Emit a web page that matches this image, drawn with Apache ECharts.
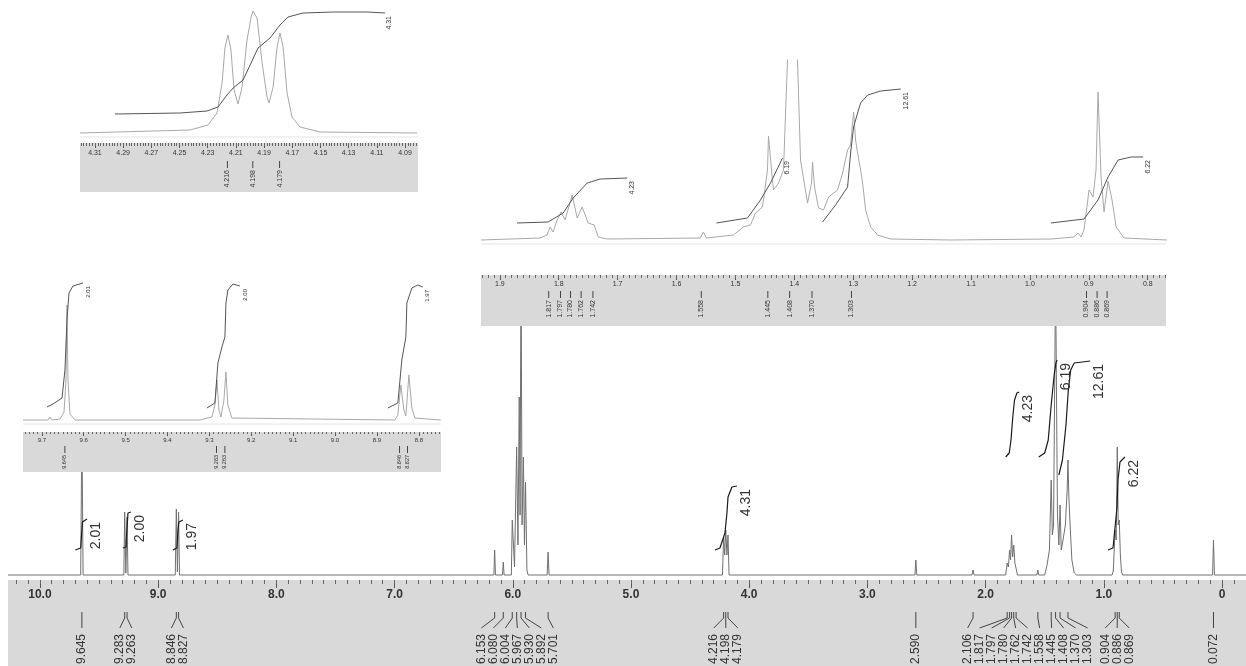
<!DOCTYPE html>
<html>
<head>
<meta charset="utf-8">
<title>1H NMR</title>
<script src="https://cdn.jsdelivr.net/npm/echarts@6/dist/echarts.min.js"></script>
<style>
  html, body { margin: 0; padding: 0; background: #fff; }
  #chart-nmr { width: 1246px; height: 666px; }
</style>
</head>
<body>
<div id="chart-nmr"></div>
<script>
  // ---- data: [ppm, intensity] ----
  var mainSpectrum = [
    [10.27, 0], [9.655, 0], [9.645, 150], [9.635, 0],
    [9.29, 0], [9.283, 63], [9.273, 2], [9.263, 58], [9.255, 0],
    [8.855, 0], [8.846, 66], [8.837, 3], [8.827, 63], [8.819, 0],
    [6.16, 0], [6.153, 25], [6.146, 0], [6.087, 0], [6.080, 13], [6.073, 0],
    [6.012, 0], [6.004, 55], [5.985, 8], [5.967, 128], [5.956, 30], [5.945, 178], [5.938, 60],
    [5.930, 320], [5.921, 50], [5.910, 118], [5.901, 30], [5.892, 93], [5.880, 5], [5.87, 0],
    [5.709, 0], [5.701, 23], [5.693, 0],
    [4.226, 0], [4.216, 38], [4.207, 20], [4.198, 45], [4.188, 20], [4.179, 40], [4.170, 0],
    [2.598, 0], [2.590, 15], [2.582, 0], [2.115, 0], [2.106, 5], [2.097, 0],
    [1.83, 0], [1.817, 12], [1.807, 8], [1.797, 25], [1.789, 15], [1.780, 40], [1.771, 18],
    [1.762, 30], [1.752, 12], [1.742, 14], [1.73, 0],
    [1.566, 0], [1.558, 5], [1.550, 0],
    [1.50, 0], [1.48, 10], [1.46, 25], [1.445, 95], [1.435, 40], [1.425, 50], [1.408, 300],
    [1.392, 60], [1.38, 30], [1.370, 70], [1.36, 25], [1.345, 35], [1.325, 50], [1.310, 85],
    [1.303, 115], [1.296, 80], [1.285, 50], [1.27, 15], [1.25, 2], [1.23, 0],
    [0.93, 0], [0.920, 4], [0.912, 3], [0.904, 45], [0.895, 35], [0.886, 128], [0.878, 50],
    [0.869, 55], [0.860, 20], [0.85, 3], [0.84, 0],
    [0.08, 0], [0.072, 35], [0.064, 0], [-0.203, 0]
  ];
  var mainTicks = [10, 9, 8, 7, 6, 5, 4, 3, 2, 1, 0];
  var mainPeakLabels = [9.645, 9.283, 9.263, 8.846, 8.827, 6.153, 6.080, 6.004, 5.967, 5.930,
    5.892, 5.701, 4.216, 4.198, 4.179, 2.590, 2.106, 1.817, 1.797, 1.780, 1.762, 1.742,
    1.558, 1.445, 1.408, 1.370, 1.303, 0.904, 0.886, 0.869, 0.072];

  // integrals on the full spectrum
  var mInt201 = [[9.70, 25], [9.655, 27], [9.645, 45], [9.640, 53], [9.602, 56]];
  var mInt200 = [[9.298, 27], [9.272, 28], [9.264, 45], [9.255, 62], [9.230, 63]];
  var mInt197 = [[8.875, 25], [8.841, 27], [8.832, 45], [8.824, 53], [8.790, 55]];
  var mInt431 = [[4.289, 25], [4.247, 27], [4.205, 42], [4.188, 62], [4.179, 78], [4.146, 88], [4.103, 89]];
  var mInt423 = [[1.83, 118], [1.80, 122], [1.785, 135], [1.77, 158], [1.755, 175], [1.735, 182], [1.715, 183]];
  var mInt619 = [[1.55, 118], [1.50, 122], [1.47, 135], [1.445, 170], [1.42, 200], [1.405, 212], [1.395, 215]];
  var mInt1261 = [[1.38, 100], [1.35, 115], [1.32, 150], [1.30, 185], [1.28, 205], [1.25, 212], [1.115, 214]];
  var mInt622 = [[0.9645, 25], [0.922, 27], [0.888, 68], [0.880, 95], [0.863, 113], [0.821, 118]];
  var mainIntValues = ['2.01', '2.00', '1.97', '4.31', '4.23', '6.19', '12.61', '6.22'];

  // inset: 4.09 - 4.31
  var in1Spectrum = [
    [4.3206, 0], [4.2425, 3], [4.2298, 8], [4.2234, 20], [4.2198, 50], [4.2177, 86], [4.2156, 98],
    [4.2135, 83], [4.2113, 43], [4.2085, 29], [4.2056, 46], [4.2021, 93], [4.1992, 116], [4.1978, 122],
    [4.1950, 115], [4.1914, 70], [4.1879, 36], [4.1865, 30], [4.1836, 46], [4.1808, 86], [4.1787, 100],
    [4.1765, 86], [4.1737, 40], [4.1702, 16], [4.1645, 6], [4.1503, 1], [4.0814, 0]
  ];
  var in1Integral = [
    [4.2958, 19], [4.2496, 20], [4.2305, 22], [4.2227, 26], [4.2163, 38], [4.2120, 45], [4.2049, 53],
    [4.1999, 68], [4.1943, 85], [4.1858, 95], [4.1787, 108], [4.1730, 116], [4.1624, 120],
    [4.1410, 121], [4.1169, 121], [4.1042, 120]
  ];
  var in1Ticks = [4.31, 4.29, 4.27, 4.25, 4.23, 4.21, 4.19, 4.17, 4.15, 4.13, 4.11, 4.09];
  var in1PeakLabels = [4.216, 4.198, 4.179];
  var in1IntValues = ['4.31'];

  // inset: 0.8 - 1.9
  var in2Spectrum = [
    [1.932, 0], [1.8317, 2], [1.8198, 5], [1.8147, 13], [1.8096, 8], [1.8028, 20], [1.7960, 28],
    [1.7892, 20], [1.7772, 45], [1.7687, 22], [1.7602, 33], [1.7500, 17], [1.7398, 15], [1.7330, 3],
    [1.7177, 1], [1.5596, 2], [1.5545, 8], [1.5494, 2], [1.5035, 5], [1.4864, 13], [1.4745, 15],
    [1.4660, 27], [1.4541, 33], [1.4456, 70], [1.4439, 104], [1.4388, 70], [1.4354, 50], [1.4269, 57],
    [1.4184, 70], [1.4116, 180], [1.403, 260], [1.3946, 180], [1.3895, 80], [1.3776, 37], [1.3708, 57],
    [1.3691, 78], [1.3657, 53], [1.3589, 32], [1.3504, 30], [1.3419, 43], [1.3266, 50], [1.3181, 67],
    [1.3096, 90], [1.3045, 95], [1.2994, 128], [1.2960, 100], [1.2926, 87], [1.2875, 70], [1.2841, 57],
    [1.2790, 30], [1.2705, 13], [1.2585, 5], [1.2364, 1], [1.1344, 0], [0.9643, 1], [0.9252, 3],
    [0.9184, 7], [0.9133, 3], [0.9082, 10], [0.8997, 50], [0.8929, 43], [0.8878, 70], [0.8844, 148],
    [0.8793, 63], [0.8742, 28], [0.8674, 59], [0.8606, 40], [0.8537, 13], [0.8401, 2], [0.7670, 0]
  ];
  var in2Int423 = [[1.8708, 17], [1.8181, 18], [1.7925, 27], [1.7755, 42], [1.7517, 57], [1.7296, 61], [1.6837, 62]];
  var in2Int619 = [[1.5323, 17], [1.4796, 22], [1.4575, 40], [1.4405, 57], [1.4201, 82]];
  var in2Int1261 = [[1.3521, 18], [1.3300, 35], [1.3096, 53], [1.3045, 87], [1.2994, 113], [1.2926, 127],
    [1.2875, 137], [1.2755, 145], [1.2534, 149], [1.2194, 151]];
  var in2Int622 = [[0.9643, 17], [0.9082, 21], [0.8844, 40], [0.8674, 63], [0.8503, 80], [0.8282, 83], [0.8078, 83]];
  var in2Ticks = [1.9, 1.8, 1.7, 1.6, 1.5, 1.4, 1.3, 1.2, 1.1, 1.0, 0.9, 0.8];
  var in2PeakLabels = [1.817, 1.797, 1.780, 1.762, 1.742, 1.558, 1.445, 1.408, 1.370, 1.303, 0.904, 0.886, 0.869];
  var in2IntValues = ['4.23', '6.19', '12.61', '6.22'];

  // inset: 8.8 - 9.7
  var in3Spectrum = [
    [9.745, 0], [9.6853, 0], [9.6806, 3], [9.6758, 0], [9.6567, 1], [9.6471, 8], [9.6424, 40],
    [9.640, 115], [9.6376, 40], [9.6328, 6], [9.6209, 0], [9.3226, 0], [9.2939, 3], [9.2868, 15],
    [9.282, 40], [9.2772, 10], [9.2725, 3], [9.2653, 20], [9.2605, 48], [9.2558, 15], [9.2463, 2],
    [8.8572, 0], [8.85, 5], [8.8428, 35], [8.8357, 10], [8.8309, 4], [8.8237, 45], [8.8166, 12],
    [8.8094, 2], [8.7474, 0]
  ];
  var in3Int201 = [[9.6877, 13], [9.6734, 16], [9.6519, 22], [9.6448, 50], [9.640, 100], [9.6352, 127], [9.6257, 134], [9.6018, 137]];
  var in3Int200 = [[9.3059, 12], [9.2868, 17], [9.2796, 57], [9.2701, 73], [9.2629, 83], [9.2605, 117], [9.2558, 130], [9.2438, 136], [9.2271, 134]];
  var in3Int197 = [[8.8739, 12], [8.8500, 17], [8.8405, 60], [8.8309, 83], [8.8285, 117], [8.8166, 132], [8.8023, 135], [8.7904, 133]];
  var in3Ticks = [9.7, 9.6, 9.5, 9.4, 9.3, 9.2, 9.1, 9.0, 8.9, 8.8];
  var in3PeakLabels = [9.645, 9.283, 9.263, 8.846, 8.827];
  var in3IntValues = ['2.01', '2.00', '1.97'];

  var FONT = '"Liberation Sans", Arial, sans-serif';
  var BAND = '#d9d9d9';

  function stepValues(from, to, step) {
    var out = [];
    var n = Math.round((to - from) / step);
    for (var i = 0; i <= n; i++) out.push(+(from + i * step).toFixed(4));
    return out;
  }

  // label spreading: merge overlapping labels into centred clusters
  function spreadLabels(xs, gap) {
    var cl = xs.map(function (x) { return { sum: x, n: 1, start: x }; });
    var again = true;
    while (again) {
      again = false;
      for (var i = 0; i < cl.length - 1; i++) {
        var a = cl[i], b = cl[i + 1];
        if (a.start + a.n * gap > b.start) {
          var c = { sum: a.sum + b.sum, n: a.n + b.n };
          c.start = c.sum / c.n - (c.n - 1) * gap / 2;
          cl.splice(i, 2, c);
          again = true;
          break;
        }
      }
    }
    var out = [];
    cl.forEach(function (c) { for (var k = 0; k < c.n; k++) out.push(c.start + k * gap); });
    return out;
  }

  function majorAxis(grid, min, max, ticks, digits, fontSize, margin, bold, tickLen) {
    return {
      type: 'value', gridIndex: grid, inverse: true, min: min, max: max, position: 'bottom', z: 21,
      axisLine: { show: false, onZero: false },
      splitLine: { show: false },
      axisTick: { show: true, customValues: ticks, length: tickLen, lineStyle: { color: '#555' } },
      axisLabel: {
        show: true, customValues: ticks, margin: margin, color: '#333',
        fontSize: fontSize, fontFamily: FONT, fontWeight: bold ? 'bold' : 'normal',
        formatter: function (v) { return v === 0 ? '0' : v.toFixed(digits); }
      }
    };
  }
  function minorAxis(grid, min, max, ticks, tickLen) {
    return {
      type: 'value', gridIndex: grid, inverse: true, min: min, max: max, position: 'bottom', z: 21,
      axisLine: { show: false, onZero: false }, splitLine: { show: false },
      axisTick: { show: true, customValues: ticks, length: tickLen, lineStyle: { color: '#666' } },
      axisLabel: { show: false }
    };
  }
  function hiddenY(grid, min, max) {
    return { type: 'value', gridIndex: grid, min: min, max: max, show: false, splitLine: { show: false } };
  }
  function lineSeries(xi, yi, data, color, width, z) {
    return {
      type: 'line', xAxisIndex: xi, yAxisIndex: yi, data: data, showSymbol: false, symbol: 'none',
      silent: true, animation: false, z: z, clip: true,
      lineStyle: { color: color, width: width }
    };
  }

  var chart = echarts.init(document.getElementById('chart-nmr'));

  var mainInts = [mInt201, mInt200, mInt197, mInt431, mInt423, mInt619, mInt1261, mInt622];
  var in2Ints = [in2Int423, in2Int619, in2Int1261, in2Int622];
  var in3Ints = [in3Int201, in3Int200, in3Int197];

  var series = [lineSeries(0, 0, mainSpectrum, '#707070', 1, 2)];
  mainInts.forEach(function (d) { series.push(lineSeries(0, 0, d, '#1a1a1a', 1.2, 3)); });
  series.push(lineSeries(2, 1, in1Spectrum, '#a8a8a8', 1, 20));
  series.push(lineSeries(2, 1, in1Integral, '#555', 1, 21));
  series.push(lineSeries(4, 2, in2Spectrum, '#a8a8a8', 1, 20));
  in2Ints.forEach(function (d) { series.push(lineSeries(4, 2, d, '#555', 1, 21)); });
  series.push(lineSeries(6, 3, in3Spectrum, '#a8a8a8', 1, 20));
  in3Ints.forEach(function (d) { series.push(lineSeries(6, 3, d, '#555', 1, 21)); });

  var option = {
    backgroundColor: '#fff',
    animation: false,
    grid: [
      { left: 8, top: 0, width: 1238, height: 580 },
      { left: 80, top: 0, width: 338, height: 143 },
      { left: 481, top: 60, width: 685, height: 215 },
      { left: 23, top: 270, width: 418, height: 162 }
    ],
    xAxis: [
      majorAxis(0, -0.203, 10.27, mainTicks, 1, 12, 9, true, 8),
      minorAxis(0, -0.203, 10.27, stepValues(-0.1, 10.2, 0.1), 4),
      majorAxis(1, 4.0808, 4.3206, in1Ticks, 2, 7, 7, false, 5),
      minorAxis(1, 4.0808, 4.3206, stepValues(4.082, 4.320, 0.002), 3),
      majorAxis(2, 0.769, 1.932, in2Ticks, 1, 7, 6, false, 5),
      minorAxis(2, 0.769, 1.932, stepValues(0.77, 1.93, 0.01), 3),
      majorAxis(3, 8.747, 9.745, in3Ticks, 1, 6, 5, false, 4),
      minorAxis(3, 8.747, 9.745, stepValues(8.75, 9.74, 0.01), 2)
    ],
    yAxis: [hiddenY(0, -5, 575), hiddenY(1, -10, 133), hiddenY(2, -35, 180), hiddenY(3, -12, 150)],
    series: series
  };
  chart.setOption(option);

  // ---- annotations drawn through the axes' own scales ----
  var els = [];
  function rect(x, y, w, h, fill, z) {
    els.push({ type: 'rect', shape: { x: x, y: y, width: w, height: h }, style: { fill: fill }, z: z, silent: true });
  }
  function text(x, y, str, size, rot, align, color) {
    els.push({
      type: 'text', x: x, y: y, rotation: rot, z: 30, silent: true,
      style: { text: str, fill: color || '#333', font: size + 'px ' + FONT,
        align: align, textAlign: align, verticalAlign: 'middle', textVerticalAlign: 'middle' }
    });
  }
  function poly(pts, color, z) {
    els.push({ type: 'polyline', shape: { points: pts }, style: { stroke: color, fill: null, lineWidth: 1 }, z: z || 30, silent: true });
  }
  function px(xi, yi, p) { return chart.convertToPixel({ xAxisIndex: xi, yAxisIndex: yi }, p); }
  function gridRect(i) { return chart.getModel().getComponent('grid', i).coordinateSystem.getRect(); }

  var gMain = gridRect(0), g1 = gridRect(1), g2 = gridRect(2), g3 = gridRect(3);

  // grey axis bands and white inset backgrounds
  rect(gMain.x, gMain.y + gMain.height, gMain.width, 666 - gMain.y - gMain.height, BAND, 10);
  rect(g1.x, g1.y + g1.height, g1.width, 49, BAND, 10);
  rect(g2.x, g2.y, g2.width, g2.height, '#fff', 10);
  rect(g2.x, g2.y + g2.height, g2.width, 51, BAND, 10);
  rect(g3.x, g3.y, g3.width, g3.height, '#fff', 10);
  rect(g3.x, g3.y + g3.height, g3.width, 40, BAND, 10);

  // faint frame line just under each inset baseline
  [[2, 1, g1], [4, 2, g2], [6, 3, g3]].forEach(function (a) {
    var y = px(a[0], a[1], [0, -4])[1];
    poly([[a[2].x, y], [a[2].x + a[2].width, y]], '#e4e4e4', 11);
  });

  // main peak labels with connectors
  var axisY = gMain.y + gMain.height;
  var peakX = mainPeakLabels.map(function (p) { return px(0, 0, [p, 0])[0]; });
  var labX = spreadLabels(peakX, 12);
  mainPeakLabels.forEach(function (p, i) {
    poly([[peakX[i], axisY + 32], [peakX[i], axisY + 38], [labX[i], axisY + 48]], '#444');
    text(labX[i], axisY + 54, p.toFixed(3), 12, Math.PI / 2, 'right', '#333');
  });

  // integral values next to each curve end
  function intLabels(xi, yi, curves, values, dx, size) {
    curves.forEach(function (c, i) {
      var end = px(xi, yi, c[c.length - 1]);
      text(end[0] + dx, end[1] + 3, values[i], size, Math.PI / 2, 'right', '#333');
    });
  }
  intLabels(0, 0, mainInts, mainIntValues, 9, 14);
  intLabels(2, 1, [in1Integral], in1IntValues, 4, 7);
  intLabels(4, 2, in2Ints, in2IntValues, 5, 7);
  intLabels(6, 3, in3Ints, in3IntValues, 5, 6);

  // inset peak marks
  function insetMarks(xi, yi, grid, peaks, markTop, size) {
    var top = grid.y + grid.height;
    peaks.forEach(function (p) {
      var x = px(xi, yi, [p, 0])[0];
      poly([[x, top + markTop], [x, top + markTop + 7]], '#444');
      text(x, top + markTop + 9, p.toFixed(3), size, Math.PI / 2, 'right', '#333');
    });
  }
  insetMarks(2, 1, g1, in1PeakLabels, 18, 7);
  insetMarks(4, 2, g2, in2PeakLabels, 16, 7);
  insetMarks(6, 3, g3, in3PeakLabels, 14, 5.5);

  chart.setOption({ graphic: { elements: els } });
</script>
</body>
</html>
